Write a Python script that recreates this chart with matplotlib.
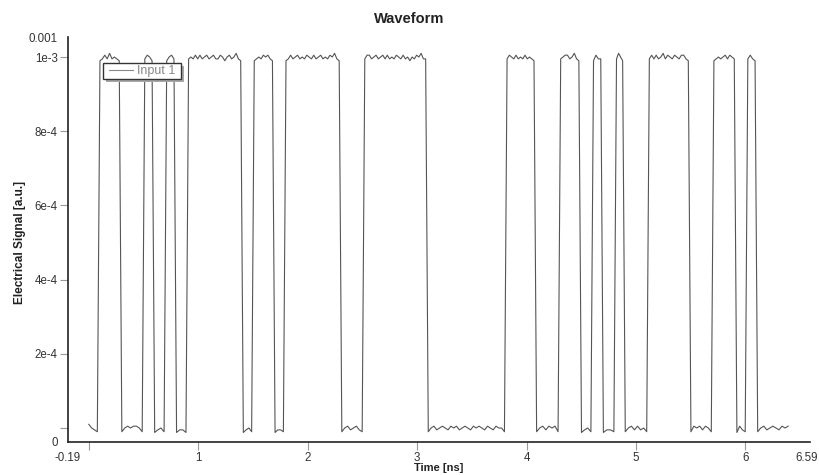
import numpy as np
import matplotlib
matplotlib.use("Agg")
import matplotlib.pyplot as plt
from matplotlib.patches import Rectangle
from matplotlib.transforms import ScaledTranslation

plt.rcParams['font.family'] = ['Liberation Sans', 'DejaVu Sans']

# flanken (mitte) in ns
edges_ns = [0.09, 0.29, 0.50, 0.59, 0.70, 0.79, 0.90, 1.40, 1.50, 1.69,
            1.79, 2.30, 2.51, 3.09, 3.81, 4.08, 4.30, 4.49, 4.60, 4.69,
            4.81, 4.89, 5.11, 5.49, 5.70, 5.91, 6.01, 6.10]
t_start = 0.0
t_end = 6.39

# signalwerte auf den plateaus, einheit 1e-3 a.u.
low_vals = [
    [0.01, 0.0, -0.005, -0.01],
    [-0.01, 0.0, 0.005, 0.0, 0.005, 0.005, 0.0, -0.01],
    [-0.012, -0.005, 0.0, -0.01],
    [-0.012, -0.005, -0.005, -0.012],
    [-0.012, -0.005, 0.0, -0.01],
    [-0.012, -0.005, -0.005, -0.01],
    [-0.01, 0.0, 0.005, -0.005, 0.0, 0.005, -0.005, -0.01],
    [-0.01, 0.0, 0.005, -0.005, 0.0, 0.005, 0.0, -0.005, 0.005, 0.0,
     0.005, -0.005, 0.0, 0.005, 0.0, -0.005, 0.005, 0.0, 0.005, 0.0,
     -0.005, 0.005, 0.0, -0.005, 0.005, 0.0, 0.0, -0.01],
    [-0.01, 0.0, 0.005, -0.005, 0.005, 0.0, 0.005, -0.01],
    [-0.012, -0.005, 0.0, -0.01],
    [-0.012, -0.005, -0.005, -0.01],
    [-0.01, 0.0, 0.005, -0.005, 0.005, -0.005, 0.0, -0.01],
    [-0.01, 0.005, 0.0, 0.005, -0.005, 0.005, 0.0, -0.01],
    [-0.012, 0.005, -0.005, -0.01],
    [-0.01, 0.0, 0.005, -0.005, 0.0, 0.005, 0.0, -0.005, 0.005, 0.0, 0.005],
]
high_vals = [
    [0.99, 0.995, 1.005, 0.995, 1.01, 0.995, 1.0, 0.995, 0.99],
    [0.995, 1.005, 1.0, 0.99],
    [0.99, 1.0, 1.005, 0.995],
    [0.995, 1.0, 0.995, 1.005, 0.995, 1.005, 0.995, 1.0, 1.005, 0.995, 1.0, 1.005,
     0.995, 0.995, 1.005, 1.0, 0.99, 1.0, 1.005, 0.995, 1.0, 1.01, 0.995, 0.99],
    [0.99, 0.995, 1.0, 0.995, 1.005, 1.0, 1.005, 0.995, 0.99],
    [0.99, 0.995, 1.005, 0.995, 1.0, 1.005, 0.995, 1.0, 0.995, 1.005, 1.0, 0.995,
     1.005, 0.995, 1.0, 1.005, 0.995, 1.0, 0.995, 1.005, 1.0, 1.01, 0.995, 0.99],
    [0.995, 1.005, 1.005, 0.995, 1.0, 1.005, 0.995, 1.0, 1.005, 0.995, 1.005, 0.995,
     1.0, 0.995, 1.005, 1.0, 0.995, 1.005, 0.995, 1.0, 0.99, 1.0, 0.995, 1.005,
     1.0, 1.01, 0.995, 0.995],
    [0.995, 1.005, 1.0, 0.995, 1.005, 0.995, 1.0, 0.995, 1.005, 0.995, 1.0, 0.995, 0.99],
    [0.995, 1.0, 1.005, 1.005, 0.995, 1.0, 1.01, 0.995, 0.99],
    [0.99, 1.005, 0.995, 0.995],
    [0.995, 1.01, 1.0, 0.99],
    [0.995, 1.005, 0.995, 1.005, 0.995, 1.0, 1.01, 0.995, 1.005, 1.0, 0.995, 1.005,
     1.0, 0.995, 1.005, 1.005, 0.995, 0.99],
    [0.99, 0.995, 1.0, 0.995, 1.0, 1.005, 0.995, 1.005, 1.0, 0.995],
    [0.995, 1.005, 0.995, 0.99],
]

x_lim = (-0.19, 6.59)
y_lim = (-3.77e-5, 1.054e-3)
x_ticks = [-0.19, 0, 1, 2, 3, 4, 5, 6, 6.59]
x_labels = ['-0.19', '', '1', '2', '3', '4', '5', '6', '6.59']
y_ticks = [y_lim[0], 0, 2e-4, 4e-4, 6e-4, 8e-4, 1e-3, y_lim[1]]
y_labels = ['0', '', '2e-4', '4e-4', '6e-4', '8e-4', '1e-3', '0.001']

# kurve zusammensetzen: plateaus zwischen den flanken
bounds = [t_start] + edges_ns + [t_end]
halb = 0.012  # halbe flankenbreite
t_all, v_all = [], []
for i in range(len(bounds) - 1):
    vals = low_vals[i // 2] if i % 2 == 0 else high_vals[i // 2]
    a = bounds[i] + (halb if i > 0 else 0)
    b = bounds[i + 1] - (halb if i < len(bounds) - 2 else 0)
    t_all.extend(np.linspace(a, b, len(vals)))
    v_all.extend(vals)
t_all = np.array(t_all)
v_all = np.array(v_all) * 1e-3

fig = plt.figure(figsize=(8.19, 4.75), dpi=100)
ax = fig.add_axes([68 / 819, 33 / 475, 742 / 819, 405 / 475])
ax.plot(t_all, v_all, color='#555555', lw=0.8, label='Input 1')

ax.set_xlim(*x_lim)
ax.set_ylim(*y_lim)
ax.set_xticks(x_ticks)
ax.set_xticklabels(x_labels)
ax.set_yticks(y_ticks)
ax.set_yticklabels(y_labels)
ax.tick_params(length=6, width=0.8, color='#999999', labelcolor='#333333',
               labelsize=8.3)
ax.tick_params(axis='x', pad=1.5)
ax.tick_params(axis='y', pad=1.5)
# keine striche an den enden
for t in (ax.xaxis.get_major_ticks()[0], ax.xaxis.get_major_ticks()[-1],
          ax.yaxis.get_major_ticks()[0], ax.yaxis.get_major_ticks()[-1]):
    t.tick1line.set_visible(False)
# letzte beschriftung rechtsbuendig an den rand
lab = ax.get_xticklabels()[-1]
lab.set_ha('right')
lab.set_transform(lab.get_transform() + ScaledTranslation(0.08, 0, fig.dpi_scale_trans))

for s in ('top', 'right'):
    ax.spines[s].set_visible(False)
for s in ('left', 'bottom'):
    ax.spines[s].set_color('#222222')
    ax.spines[s].set_linewidth(1.2)

# legendenkasten selbst zeichnen, schatten 3 px versetzt
schatten = Rectangle((38 / 742, 360 / 405), 78 / 742, 16 / 405, transform=ax.transAxes,
                     facecolor='#a8a8a8', edgecolor='none', zorder=4.5)
box = Rectangle((35 / 742, 363 / 405), 78 / 742, 16 / 405, transform=ax.transAxes,
                facecolor='white', edgecolor='#333333', lw=1.0, zorder=4.6)
ax.add_patch(schatten)
ax.add_patch(box)
leg = ax.legend(loc='center left', bbox_to_anchor=(41 / 742, 371 / 405),
                borderaxespad=0, borderpad=0, frameon=False, fontsize=9,
                labelcolor='#888888', handlelength=1.92, handletextpad=0.32)
leg.set_zorder(5)
leg.get_lines()[0].set_color('#888888')

fig.text(0.5, 1 - 19 / 475, 'Waveform', ha='center', va='center',
         fontsize=10.5, fontweight='bold', color='#222222')
fig.text(439 / 819, 1 - 468 / 475, 'Time [ns]', ha='center', va='center',
         fontsize=8, fontweight='bold', color='#222222')
fig.text(20 / 819, 1 - 242 / 475, 'Electrical Signal [a.u.]', ha='center',
         va='center', rotation=90, fontsize=8.5, fontweight='bold', color='#222222')

fig.savefig('out.png', dpi=100)
